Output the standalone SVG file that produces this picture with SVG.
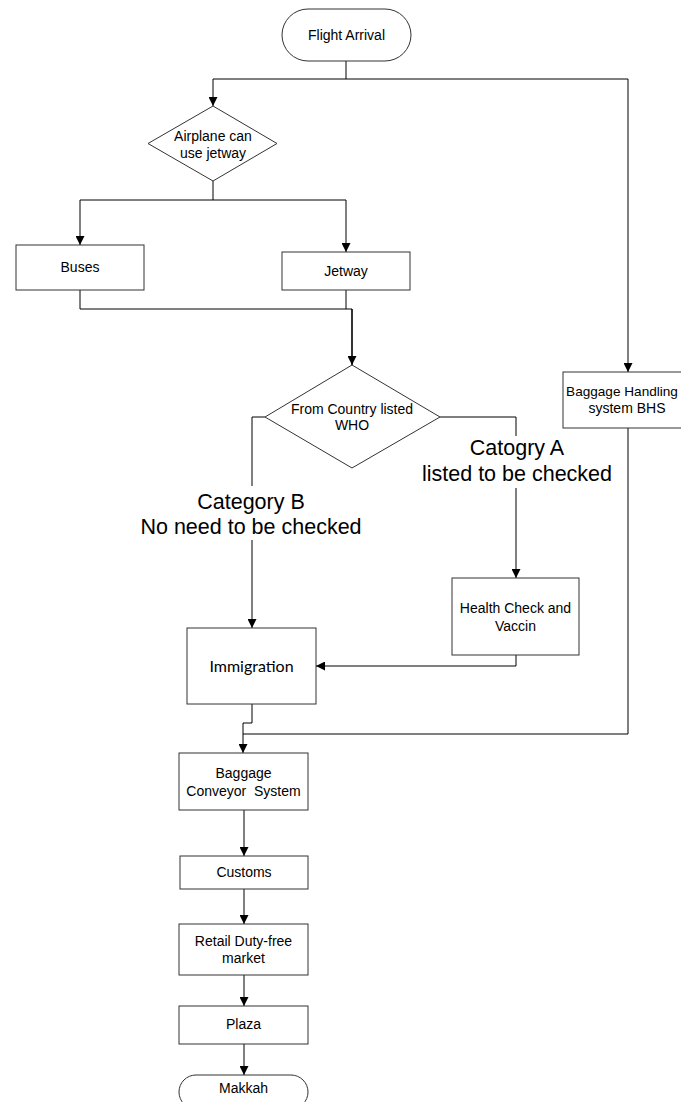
<svg xmlns="http://www.w3.org/2000/svg" width="681" height="1102" viewBox="0 0 681 1102">
  <defs>
    <marker id="arrow" viewBox="0 0 10 10" refX="10" refY="5" markerWidth="9" markerHeight="9" markerUnits="userSpaceOnUse" orient="auto">
      <path d="M0,0 L10,5 L0,10 Z" fill="#000"/>
    </marker>
    <style>
      .shape { fill: #fff; stroke: #333; stroke-width: 1; }
      .txt { font-family: "Liberation Sans", Arial, sans-serif; font-size: 14px; fill: #000; text-anchor: middle; }
      .big { font-family: "Liberation Sans", Arial, sans-serif; font-size: 21.5px; fill: #000; text-anchor: middle; }
      .cal { font-family: Lato, "Liberation Sans", sans-serif; font-size: 16px; fill: #000; text-anchor: middle; }
      .line { fill: none; stroke: #000; stroke-width: 1; }
      .flow { fill: none; stroke: #000; stroke-width: 1; marker-end: url(#arrow); }
    </style>
  </defs>
  <rect width="681" height="1102" fill="#fff"/>

  <!-- connectors -->
  <g id="connectors">
    <path class="line" d="M346,61 V79"/>
    <path class="line" d="M213,79 H628"/>
    <path class="flow" d="M213,79 V106"/>
    <path class="flow" d="M628,79 V372"/>
    <path class="line" d="M213,181 V200 H346"/>
    <path class="line" d="M80,200 H213"/>
    <path class="flow" d="M80,200 V245"/>
    <path class="flow" d="M346,200 V252"/>
    <path class="line" d="M80,290 V309 H352"/>
    <path class="line" d="M346,290 V309"/>
    <path class="flow" d="M352,309 V365" style="stroke-width:1.6"/>
    <path class="flow" d="M265,417 H252 V628"/>
    <path class="flow" d="M440,417 H516 V578"/>
    <path class="flow" d="M516,655 V666 H316"/>
    <path class="line" d="M252,704 V723 H243"/>
    <path class="line" d="M628,428 V734 H243"/>
    <path class="flow" d="M243,723 V753"/>
    <path class="flow" d="M244,810 V856"/>
    <path class="flow" d="M244,889 V924"/>
    <path class="flow" d="M244,975 V1006"/>
    <path class="flow" d="M244,1044 V1075"/>
  </g>

  <!-- branch labels -->
  <g id="label-b">
    <rect x="140" y="486" width="224" height="54" fill="#fff"/>
    <text class="big" x="251" y="509">Category B</text>
    <text class="big" x="251" y="534">No need to be checked</text>
  </g>
  <g id="label-a">
    <rect x="421" y="436" width="193" height="52" fill="#fff"/>
    <text class="big" x="517" y="455">Catogry A</text>
    <text class="big" x="517" y="481">listed to be checked</text>
  </g>

  <!-- nodes -->
  <g id="flight-arrival">
    <rect class="shape" x="282" y="9" width="129" height="52" rx="26" ry="26"/>
    <text class="txt" x="346.5" y="40">Flight Arrival</text>
  </g>
  <g id="jetway-decision">
    <polygon class="shape" points="213,106 277,143.5 213,181 148,143.5"/>
    <text class="txt" x="213" y="141">Airplane can</text>
    <text class="txt" x="213" y="158">use jetway</text>
  </g>
  <g id="buses">
    <rect class="shape" x="16" y="245" width="128" height="45"/>
    <text class="txt" x="80" y="272">Buses</text>
  </g>
  <g id="jetway">
    <rect class="shape" x="282" y="252" width="128" height="38"/>
    <text class="txt" x="346" y="276">Jetway</text>
  </g>
  <g id="who-decision">
    <polygon class="shape" points="352,365 440,417 352,468 265,417"/>
    <text class="txt" x="352" y="414">From Country listed</text>
    <text class="txt" x="352" y="430">WHO</text>
  </g>
  <g id="bhs">
    <rect class="shape" x="563" y="372" width="130" height="56"/>
    <text class="txt" x="622" y="396" style="font-size:13.6px">Baggage Handling</text>
    <text class="txt" x="627" y="413">system BHS</text>
  </g>
  <g id="health-check">
    <rect class="shape" x="452" y="578" width="127" height="77"/>
    <text class="txt" x="515.5" y="613">Health Check and</text>
    <text class="txt" x="515.5" y="631">Vaccin</text>
  </g>
  <g id="immigration">
    <rect class="shape" x="187" y="628" width="129" height="76"/>
    <text class="cal" x="251.5" y="672">Immigration</text>
  </g>
  <g id="baggage-conveyor">
    <rect class="shape" x="179" y="753" width="129" height="57"/>
    <text class="txt" x="243.5" y="778">Baggage</text>
    <text class="txt" x="243.5" y="796" xml:space="preserve">Conveyor  System</text>
  </g>
  <g id="customs">
    <rect class="shape" x="180" y="856" width="128" height="33"/>
    <text class="txt" x="244" y="877">Customs</text>
  </g>
  <g id="retail">
    <rect class="shape" x="179" y="924" width="129" height="51"/>
    <text class="txt" x="243.5" y="946">Retail Duty-free</text>
    <text class="txt" x="243.5" y="963">market</text>
  </g>
  <g id="plaza">
    <rect class="shape" x="179" y="1006" width="129" height="38"/>
    <text class="txt" x="243.5" y="1029">Plaza</text>
  </g>
  <g id="makkah">
    <rect class="shape" x="179" y="1075" width="129" height="34" rx="17" ry="17"/>
    <text class="txt" x="243.5" y="1093">Makkah</text>
  </g>
</svg>
